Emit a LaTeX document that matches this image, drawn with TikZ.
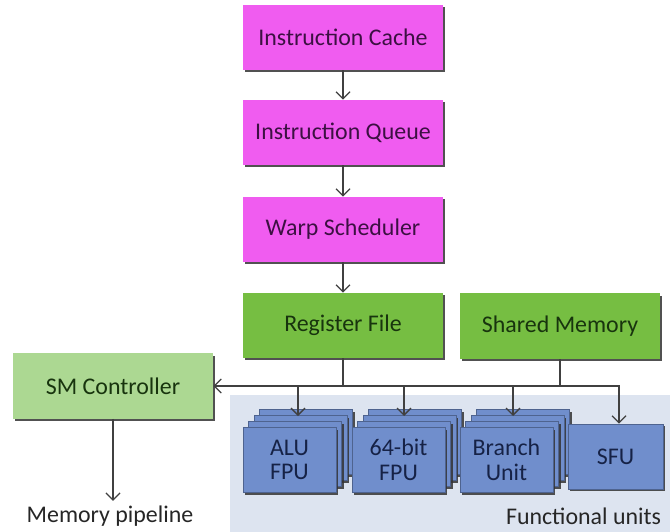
\documentclass[tikz,border=0pt]{standalone}
\usepackage{fontspec}
\setmainfont{Carlito}
\usepackage{tikz}
\usetikzlibrary{arrows.meta,positioning,calc,shadows}

\definecolor{magfill}{RGB}{240,92,240}
\definecolor{magtext}{RGB}{60,16,66}
\definecolor{grnfill}{RGB}{118,190,66}
\definecolor{grntext}{RGB}{24,52,14}
\definecolor{ctlfill}{RGB}{172,216,146}
\definecolor{blufill}{RGB}{112,142,204}
\definecolor{blutext}{RGB}{22,34,70}
\definecolor{bgfill}{RGB}{221,228,240}
\definecolor{linecol}{RGB}{64,64,64}

\tikzset{
  boxbase/.style={rectangle, minimum width=5cm, minimum height=1.625cm,
    font=\fontsize{17}{20}\selectfont,
    drop shadow={shadow xshift=1.5pt, shadow yshift=-1.6pt, fill=black!80, opacity=.85}},
  magbox/.style={boxbase, fill=magfill, text=magtext},
  grnbox/.style={boxbase, fill=grnfill, text=grntext},
  ctlbox/.style={boxbase, fill=ctlfill, text=grntext},
  fubox/.style={rectangle, fill=blufill, text=blutext, draw=blufill!70!black, line width=.4pt,
    minimum width=2.325cm, minimum height=1.625cm, align=center,
    font=\fontsize{17}{17.5}\selectfont,
    drop shadow={shadow xshift=1.5pt, shadow yshift=-1.6pt, fill=black!80, opacity=.85}},
  conn/.style={draw=linecol, line width=.9pt, -{Straight Barb[length=5pt,width=10pt]}},
  wire/.style={draw=linecol, line width=.9pt},
  lbl/.style={font=\fontsize{17}{20}\selectfont, text=black!85}
}

\begin{document}
\begin{tikzpicture}[x=0.025cm,y=-0.025cm]
\useasboundingbox (0,0) rectangle (670,532);
% background of the functional units
\fill[bgfill] (230,395) rectangle (670,532);

% front end
\node[magbox] (icache) at (343,37.5) {Instruction Cache};
\node[magbox] (iqueue) at (343,132.5) {Instruction Queue};
\node[magbox] (wsched) at (343,229.5) {Warp Scheduler};
\node[grnbox] (regfile) at (343,325.5) {Register File};
\node[grnbox] (shmem) at (560,326) {Shared Memory};
\node[ctlbox] (smctrl) at (113,386) {SM Controller};

% stacked units
\foreach \u/\x in {alu/289.5,fpu/398.5,bra/506.5}{
  \foreach \k in {3,2,1}
    \node[fubox] at ($(\x,460)+(5.5*\k,-6*\k)$) {};
}
\node[fubox] (alu) at (289.5,460) {ALU\\FPU};
\node[fubox] (fpu) at (398.5,460) {64-bit\\FPU};
\node[fubox] (bra) at (506.5,460) {Branch\\Unit};
\node[fubox, minimum width=2.375cm] (sfu) at (615.5,456.5) {SFU};

\coordinate (alutop) at (298,416);
\coordinate (fputop) at (404,416);
\coordinate (bratop) at (513,416);

\node[lbl] (mempipe) at (110,516) {Memory pipeline};
\node[lbl, anchor=east] (fulbl) at (666,516) {Functional units};

% connectors
\draw[conn] (icache) -- (iqueue);
\draw[conn] (iqueue) -- (wsched);
\draw[conn] (wsched) -- (regfile);
\draw[conn] (regfile.south) |- (smctrl.east);
\draw[wire] (shmem.south) -- (shmem.south |- smctrl.east);
\draw[conn] (regfile.south |- smctrl.east) -| ($(sfu.north)+(3.5,0)$);
\draw[conn] (alutop |- smctrl.east) -- (alutop);
\draw[conn] (fputop |- smctrl.east) -- (fputop);
\draw[conn] (bratop |- smctrl.east) -- (bratop);
\draw[conn] (smctrl.south) -- (smctrl.south |- mempipe.north);
\end{tikzpicture}
\end{document}
